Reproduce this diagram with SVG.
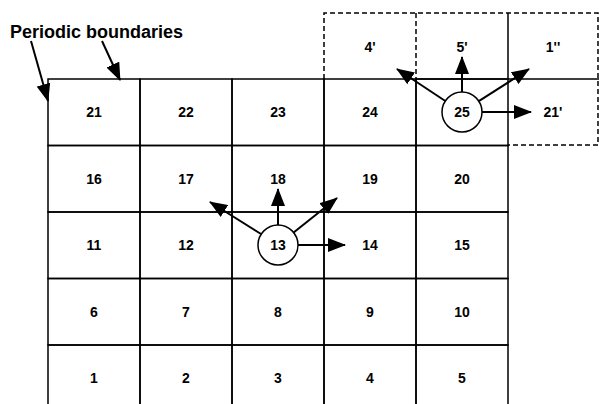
<svg xmlns="http://www.w3.org/2000/svg" width="599" height="404" viewBox="0 0 599 404">
<defs>
<style>
.cell{fill:none;stroke:#000;stroke-width:1.5}
.dash{fill:none;stroke:#000;stroke-width:1.5;stroke-dasharray:5,3}
.solid{fill:none;stroke:#000;stroke-width:1.5}
.lbl{font-family:"Liberation Sans",Arial,sans-serif;font-weight:bold;font-size:14px;text-anchor:middle;dominant-baseline:central;fill:#000}
.title{font-family:"Liberation Sans",Arial,sans-serif;font-weight:bold;font-size:18px;fill:#000}
.circ{fill:#fff;stroke:#000;stroke-width:1.5}
.arr{stroke:#000;stroke-width:2;fill:none;marker-end:url(#ah)}
</style>
<marker id="ah" markerUnits="userSpaceOnUse" markerWidth="18" markerHeight="14" refX="17" refY="7" orient="auto">
<path d="M0,0 L18,7 L0,14 z" fill="#000"/>
</marker>
</defs>
<rect width="599" height="404" fill="#fff"/>
<text class="title" x="10" y="38">Periodic boundaries</text>

<g id="ghost-cells">
<path class="dash" d="M324,79 V13 H598 V145 H508"/>
<path class="dash" d="M416,13 V79"/>
<path class="solid" d="M508,13 V79 M416,79 H599"/>
<g id="c4p"><text class="lbl" x="370" y="47">4'</text></g>
<g id="c5p"><text class="lbl" x="462" y="47">5'</text></g>
<g id="c1pp"><text class="lbl" x="553" y="47">1''</text></g>
<g id="c21p"><text class="lbl" x="553" y="112">21'</text></g>
</g>

<g id="c21"><rect class="cell" x="48" y="79" width="92" height="66.5"/><text class="lbl" x="94" y="112">21</text></g>
<g id="c22"><rect class="cell" x="140" y="79" width="92" height="66.5"/><text class="lbl" x="186" y="112">22</text></g>
<g id="c23"><rect class="cell" x="232" y="79" width="92" height="66.5"/><text class="lbl" x="278" y="112">23</text></g>
<g id="c24"><rect class="cell" x="324" y="79" width="92" height="66.5"/><text class="lbl" x="370" y="112">24</text></g>
<g id="c25"><rect class="cell" x="416" y="79" width="92" height="66.5"/></g>

<g id="c16"><rect class="cell" x="48" y="145.5" width="92" height="66.5"/><text class="lbl" x="94" y="178.5">16</text></g>
<g id="c17"><rect class="cell" x="140" y="145.5" width="92" height="66.5"/><text class="lbl" x="186" y="178.5">17</text></g>
<g id="c18"><rect class="cell" x="232" y="145.5" width="92" height="66.5"/><text class="lbl" x="278" y="178.5">18</text></g>
<g id="c19"><rect class="cell" x="324" y="145.5" width="92" height="66.5"/><text class="lbl" x="370" y="178.5">19</text></g>
<g id="c20"><rect class="cell" x="416" y="145.5" width="92" height="66.5"/><text class="lbl" x="462" y="178.5">20</text></g>

<g id="c11"><rect class="cell" x="48" y="212" width="92" height="66.5"/><text class="lbl" x="94" y="245">11</text></g>
<g id="c12"><rect class="cell" x="140" y="212" width="92" height="66.5"/><text class="lbl" x="186" y="245">12</text></g>
<g id="c13"><rect class="cell" x="232" y="212" width="92" height="66.5"/></g>
<g id="c14"><rect class="cell" x="324" y="212" width="92" height="66.5"/><text class="lbl" x="370" y="245">14</text></g>
<g id="c15"><rect class="cell" x="416" y="212" width="92" height="66.5"/><text class="lbl" x="462" y="245">15</text></g>

<g id="c6"><rect class="cell" x="48" y="278.5" width="92" height="66.5"/><text class="lbl" x="94" y="311.5">6</text></g>
<g id="c7"><rect class="cell" x="140" y="278.5" width="92" height="66.5"/><text class="lbl" x="186" y="311.5">7</text></g>
<g id="c8"><rect class="cell" x="232" y="278.5" width="92" height="66.5"/><text class="lbl" x="278" y="311.5">8</text></g>
<g id="c9"><rect class="cell" x="324" y="278.5" width="92" height="66.5"/><text class="lbl" x="370" y="311.5">9</text></g>
<g id="c10"><rect class="cell" x="416" y="278.5" width="92" height="66.5"/><text class="lbl" x="462" y="311.5">10</text></g>

<g id="c1"><rect class="cell" x="48" y="345" width="92" height="66.5"/><text class="lbl" x="94" y="378">1</text></g>
<g id="c2"><rect class="cell" x="140" y="345" width="92" height="66.5"/><text class="lbl" x="186" y="378">2</text></g>
<g id="c3"><rect class="cell" x="232" y="345" width="92" height="66.5"/><text class="lbl" x="278" y="378">3</text></g>
<g id="c4"><rect class="cell" x="324" y="345" width="92" height="66.5"/><text class="lbl" x="370" y="378">4</text></g>
<g id="c5"><rect class="cell" x="416" y="345" width="92" height="66.5"/><text class="lbl" x="462" y="378">5</text></g>

<g id="connectors">
<line class="arr" x1="31" y1="41" x2="48" y2="101"/>
<line class="arr" x1="102" y1="41" x2="120" y2="80"/>
<line class="arr" x1="278" y1="225" x2="278" y2="189"/>
<line class="arr" x1="261" y1="234" x2="210" y2="202"/>
<line class="arr" x1="293.6" y1="232.5" x2="337" y2="198"/>
<line class="arr" x1="298" y1="245" x2="345" y2="245"/>
<line class="arr" x1="462" y1="92" x2="462" y2="57"/>
<line class="arr" x1="445.3" y1="101" x2="397" y2="69"/>
<line class="arr" x1="478.8" y1="101.2" x2="529" y2="69"/>
<line class="arr" x1="482" y1="112" x2="531" y2="112"/>
</g>

<g id="n13"><circle class="circ" cx="278" cy="245" r="20"/><text class="lbl" x="278" y="245">13</text></g>
<g id="n25"><circle class="circ" cx="462" cy="112" r="20"/><text class="lbl" x="462" y="112">25</text></g>
</svg>
